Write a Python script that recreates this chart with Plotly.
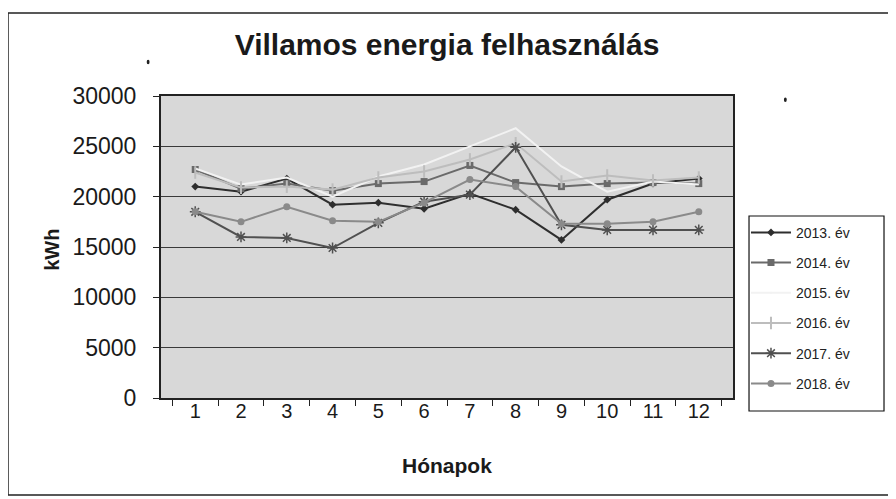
import plotly.graph_objects as go

months = [str(m) for m in range(1, 13)]
y2013 = [21000, 20500, 21800, 19200, 19400, 18800, 20300, 18700, 15700, 19700, 21300, 21800]
y2014 = [22700, 20800, 21300, 20600, 21300, 21500, 23100, 21400, 21000, 21300, 21400, 21300]
y2015 = [22800, 21200, 21900, 20000, 22000, 23200, 25000, 26800, 23000, 20500, 21500, 21200]
y2016 = [22400, 20900, 21000, 20700, 21900, 22500, 23700, 25300, 21500, 22100, 21600, 21900]
y2017 = [18500, 16000, 15900, 14900, 17400, 19500, 20200, 24900, 17200, 16700, 16700, 16700]
y2018 = [18500, 17500, 19000, 17600, 17500, 19400, 21700, 21000, 17300, 17300, 17500, 18500]

series = [
    ("2013. év", y2013, "#2e2e2e", dict(symbol="diamond", size=6)),
    ("2014. év", y2014, "#6a6a6a", dict(symbol="square", size=7)),
    ("2015. év", y2015, "#f2f2f2", dict(symbol="circle", size=1)),
    ("2016. év", y2016, "#bdbdbd", dict(symbol="line-ns-open", size=9, line=dict(width=2, color="#bdbdbd"))),
    ("2017. év", y2017, "#505050", dict(symbol="asterisk-open", size=9, line=dict(width=1.5, color="#505050"))),
    ("2018. év", y2018, "#8a8a8a", dict(symbol="circle", size=7)),
]

fig = go.Figure()
for i, (name, ys, col, mk) in enumerate(series):
    m = dict(color=col)
    m.update(mk)
    fig.add_trace(go.Scatter(
        x=months, y=ys, name=name, mode="lines+markers",
        line=dict(color=col, width=2), marker=m, legendgroup=str(i)))

fig.update_layout(
    width=896, height=499,
    margin=dict(l=153, r=171, t=88, b=109, autoexpand=False),
    paper_bgcolor="white", plot_bgcolor="#d8d8d8",
    font=dict(family="Liberation Sans, Arial, sans-serif", color="#1a1a1a"),
    title=dict(text="<b>Villamos energia felhasználás</b>", x=0.5, xanchor="center",
               xref="paper", y=0.926, yanchor="middle", font=dict(size=30, color="#1a1a1a")),
    showlegend=True,
    legend=dict(x=1.0227, xanchor="left", y=0.6, yanchor="top",
                borderwidth=0, bgcolor="rgba(0,0,0,0)",
                font=dict(size=14, color="#222"), tracegroupgap=9,
                itemwidth=40),
    xaxis=dict(type="category", tickson="boundaries", ticks="outside", ticklen=6,
               tickcolor="#222", showline=True, linecolor="#222", linewidth=2,
               mirror=True, showgrid=False, automargin=False, ticklabelstandoff=-6,
               tickfont=dict(size=20, color="#1a1a1a")),
    yaxis=dict(range=[0, 30000], dtick=5000, ticks="outside", ticklen=6,
               tickformat="d", ticklabelstandoff=12,
               tickcolor="#222", showline=True, linecolor="#222", linewidth=2,
               mirror=True, showgrid=True, gridcolor="#3a3a3a", gridwidth=1.3,
               zeroline=False, automargin=False,
               tickfont=dict(size=23, color="#1a1a1a")),
    annotations=[
        dict(text="<b>Hónapok</b>", xref="paper", yref="paper", x=0.5, y=-0.225,
             xanchor="center", yanchor="middle", showarrow=False,
             font=dict(size=21, color="#1a1a1a")),
        dict(text="<b>kWh</b>", xref="paper", yref="paper", x=-0.191, y=0.49,
             xanchor="center", yanchor="middle", showarrow=False, textangle=-90,
             font=dict(size=20, color="#1a1a1a")),
    ],
    shapes=[
        dict(type="rect", xref="paper", yref="paper", x0=-0.2675, x1=1.3, y0=-0.321, y1=1.275,
             line=dict(color="#222", width=1.5), fillcolor="rgba(0,0,0,0)", layer="below"),
        dict(type="rect", xref="paper", yref="paper", x0=1.028, x1=1.264, y0=-0.043, y1=0.6026,
             line=dict(color="#111", width=1.2), fillcolor="white", layer="above"),
        dict(type="circle", xref="paper", yref="paper", x0=-0.025, x1=-0.02, y0=1.105, y1=1.12,
             fillcolor="#222", line=dict(width=0)),
        dict(type="circle", xref="paper", yref="paper", x0=1.089, x1=1.094, y0=0.98, y1=0.995,
             fillcolor="#222", line=dict(width=0)),
    ],
)

fig.write_html("out.html")
